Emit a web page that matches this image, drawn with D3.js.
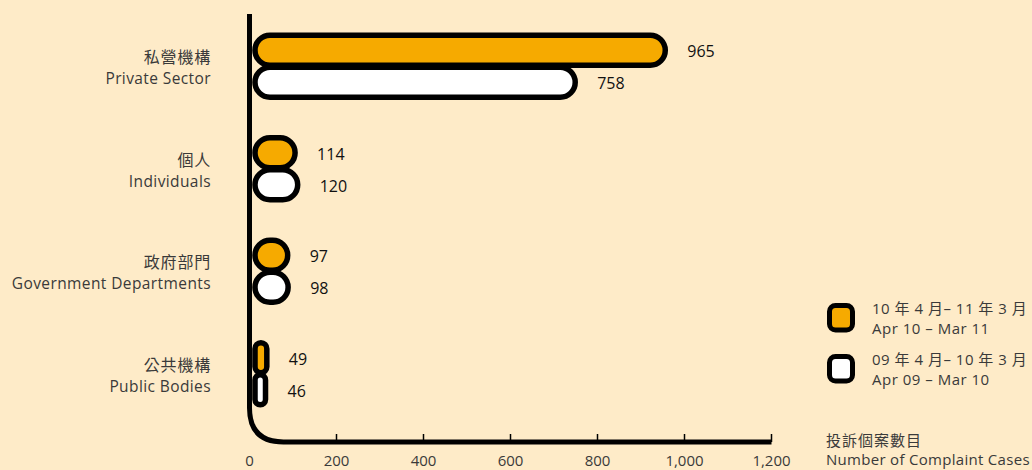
<!DOCTYPE html>
<html><head><meta charset="utf-8">
<script src="https://cdn.jsdelivr.net/npm/d3@7"></script>
<style>
html,body{margin:0;padding:0;background:#FEEBC8;}
svg{display:block;}
text{font-family:"Open Sans","Noto Sans CJK TC",sans-serif;}
</style></head>
<body><svg id="c" width="1032" height="470"></svg>
<script>
const categoriesZh = ["私營機構","個人","政府部門","公共機構"];
const categoriesEn = ["Private Sector","Individuals","Government Departments","Public Bodies"];
const series2010 = [965,114,97,49];
const series2009 = [758,120,98,46];
const seriesNames = [["10 年 4 月– 11 年 3 月","Apr 10 – Mar 11"],["09 年 4 月– 10 年 3 月","Apr 09 – Mar 10"]];
const tickValues = [0,200,400,600,800,1000,1200];
const tickLabels = ["0","200","400","600","800","1,000","1,200"];
const axisTitle = ["投訴個案數目","Number of Complaint Cases"];

const svg = d3.select("#c");
const x = d3.scaleLinear().domain([0,1200]).range([249.5,771.5]);
const y = d3.scaleBand().domain(categoriesEn).range([15,425]);
const ORANGE = "#F6AA00", SW = 5.5, TEXT = "#3a3a3a";
const barH = 30;

// axis line with curve
const axY = 442, x0 = x(0), r = 34;
svg.append("path")
  .attr("d", `M${x0},14 L${x0},${axY-r} Q${x0},${axY} ${x0+r},${axY} L${x(1200)},${axY}`)
  .attr("fill","none").attr("stroke","#000").attr("stroke-width",5);
// ticks
svg.selectAll("line.tick").data(tickValues.slice(1)).join("line")
  .attr("x1",d=>x(d)).attr("x2",d=>x(d)).attr("y1",axY-8).attr("y2",axY)
  .attr("stroke","#000").attr("stroke-width",1.5);
svg.selectAll("text.tl").data(tickValues).join("text")
  .attr("x",d=>x(d)).attr("y",axY+18).attr("text-anchor","middle").attr("dominant-baseline","central")
  .attr("font-size",15).attr("fill",TEXT).text((d,i)=>tickLabels[i]);

// bars
const data = categoriesEn.map((c,i)=>({c,i,v:[series2010[i],series2009[i]]}));
const fills = [ORANGE,"#FFFFFF"];
data.forEach(d=>{
  const c = y(d.c)+y.bandwidth()/2;
  [1,0].forEach(s=>{
    const cy = c + (s===0?-16:16);
    const w = x(d.v[s]) - x0 - 9.5;
    const rr = Math.min(w/2, barH/2);
    svg.append("rect").attr("x",x0+5.5).attr("y",cy-barH/2).attr("width",w).attr("height",barH)
      .attr("rx",rr).attr("ry",rr)
      .attr("fill",fills[s]).attr("stroke","#000").attr("stroke-width",SW);
  });
  [0,1].forEach(s=>{
    const cy = c + (s===0?-16:16);
    svg.append("text").attr("x",x(d.v[s])+18).attr("y",cy+1).attr("dominant-baseline","central")
      .attr("font-size",16).attr("fill","#111").text(d.v[s]);
  });
  svg.append("text").attr("x",211).attr("y",c-9).attr("text-anchor","end").attr("dominant-baseline","central")
    .attr("font-size",16).attr("fill",TEXT).attr("letter-spacing",0.8).text(categoriesZh[d.i]);
  svg.append("text").attr("x",211).attr("y",c+12).attr("text-anchor","end").attr("dominant-baseline","central")
    .attr("font-size",15.5).attr("fill",TEXT).attr("letter-spacing",0.4).text(categoriesEn[d.i]);
});

// legend
const lg = [{y:305.5,f:ORANGE,t:seriesNames[0]},{y:356.5,f:"#FFFFFF",t:seriesNames[1]}];
lg.forEach(l=>{
  svg.append("rect").attr("x",829.5).attr("y",l.y).attr("width",23).attr("height",24.5).attr("rx",6)
    .attr("fill",l.f).attr("stroke","#000").attr("stroke-width",5);
  svg.append("text").attr("x",872).attr("y",l.y+2).attr("dominant-baseline","central")
    .attr("font-size",15).attr("fill",TEXT).attr("letter-spacing",0.5).text(l.t[0]);
  svg.append("text").attr("x",872).attr("y",l.y+22).attr("dominant-baseline","central")
    .attr("font-size",15).attr("fill",TEXT).attr("letter-spacing",0.5).text(l.t[1]);
});
svg.append("text").attr("x",826).attr("y",440).attr("dominant-baseline","central")
  .attr("font-size",15).attr("fill",TEXT).attr("letter-spacing",1).text(axisTitle[0]);
svg.append("text").attr("x",826).attr("y",459).attr("dominant-baseline","central")
  .attr("font-size",15).attr("fill",TEXT).attr("letter-spacing",0.3).text(axisTitle[1]);
</script></body></html>
